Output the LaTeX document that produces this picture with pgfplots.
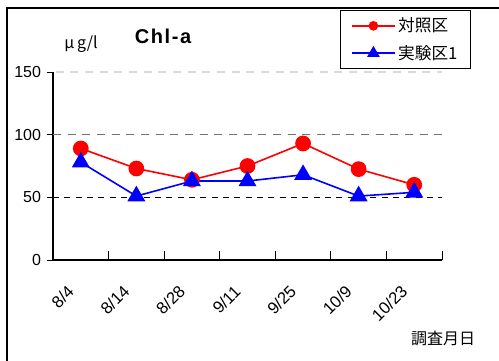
\documentclass[border=0pt]{standalone}
\usepackage{fontspec}
\setmainfont{Liberation Sans}
\newfontfamily\jp{Noto Sans CJK JP}
\usepackage{pgfplots}
\pgfplotsset{compat=1.18}
\begin{document}
\begin{tikzpicture}
\path[use as bounding box] (0,0) rectangle (374.25pt,270pt);
\clip (0,0) rectangle (374.25pt,270pt);
\draw[line width=1.3pt] (5.25pt,-20pt) -- (5.25pt,264pt) -- (400pt,264pt);
\begin{axis}[
  at={(39.75pt,75pt)}, anchor=south west,
  scale only axis, width=291.75pt, height=141pt,
  xmin=-0.5, xmax=6.5, ymin=0, ymax=150,
  axis lines*=left,
  axis line style={line width=0.9pt, black},
  ytick={0,50,100,150},
  xtick={0,...,6},
  xticklabels={8/4,8/14,8/28,9/11,9/25,10/9,10/23},
  minor xtick={-0.5,0.5,...,6.5},
  major x tick style={draw=none},
  tick align=outside,
  major tick length=4.5pt,
  minor tick length=6.5pt,
  minor x tick style={yshift=6.5pt, black, line width=0.6pt},
  major y tick style={black, line width=0.6pt},
  y tick label style={font=\fontsize{12}{14}\selectfont, xshift=-1pt},
  /pgf/number format/assume math mode=true,
  x tick label style={font=\fontsize{12.5}{14}\selectfont, xshift=-5pt, yshift=-14.5pt, rotate=45, anchor=east},
  legend style={at={(0.738,1.330)}, anchor=north west, draw=black, line width=0.8pt,
    font=\jp\fontsize{12.5}{14}\selectfont, inner xsep=8pt, inner ysep=3.5pt, row sep=4.5pt,
    nodes={inner sep=2pt}},
  legend cell align=left,
  legend image code/.code={
    \draw[#1, mark=none] (0pt,0pt) -- (32pt,0pt);
    \draw[#1, only marks] plot coordinates {(16pt,0pt)};
  },
  clip=false,
]
\draw[color=black!15, line width=0.9pt, dash pattern=on 6pt off 5pt] (axis cs:-0.45,150) -- (axis cs:6.5,150);
\draw[color=black!55, line width=1pt, dash pattern=on 6pt off 5pt] (axis cs:-0.5,100) -- (axis cs:6.5,100);
\draw[color=black, line width=0.6pt, dash pattern=on 4.5pt off 4pt] (axis cs:-0.5,50) -- (axis cs:6.5,50);
\addplot[red, line width=1.2pt, mark=*, mark size=5.3pt, mark options={solid, fill=red},
  legend image post style={mark size=3pt}]
  coordinates {(0,89) (1,73) (2,64) (3,75) (4,93) (5,72.5) (6,60)};
\addlegendentry{対照区}
\addplot[blue, line width=1.2pt, mark=triangle*, mark size=6.6pt, mark options={solid, fill=blue},
  legend image post style={mark size=4.3pt}]
  coordinates {(0,78) (1,51) (2,63) (3,63) (4,68) (5,51) (6,54)};
\addlegendentry{実験区1}
\end{axis}
\node[font=\bfseries\fontsize{15}{17}\selectfont\addfontfeature{LetterSpace=8}] at (122.25pt,243pt) {Chl-a};
\node[font=\jp\fontsize{12}{14}\selectfont] at (60.75pt,237pt) {μ\,g/l};
\node[font=\jp\fontsize{12}{14}\selectfont] at (332.25pt,16.5pt) {調査月日};
\end{tikzpicture}
\end{document}
